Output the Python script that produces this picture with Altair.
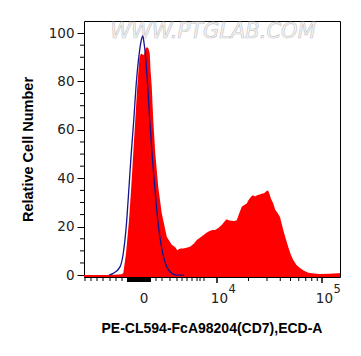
import altair as alt
import pandas as pd
import numpy as np

# Histogram; x is the display channel (0..1024 across the plot)
red_ch = [0, 110, 150, 157, 168, 180, 189, 197, 205, 213, 222, 228, 234, 240, 246, 252, 258, 263, 266, 271,
          277, 285, 291, 297, 311, 331, 351, 365, 373, 385, 397, 410, 424, 440, 451, 465, 477, 490, 504, 515,
          524, 537, 551, 561, 571, 581, 591, 601, 611, 621, 631, 641, 651, 657, 664, 670, 676, 684, 692, 700,
          710, 720, 728, 736, 742, 748, 757, 765, 775, 784, 797, 807, 817, 827, 837, 850, 864, 880, 897, 920,
          944, 980, 1016, 1024]
red_val = [0, 0, 0.3, 0.7, 8.9, 22.7, 36.4, 50.3, 64, 77.8, 90, 91.6, 91.2, 91.0, 93.5, 94.3, 93.5, 91.6, 85, 77.8,
           64, 50.3, 43.4, 36.4, 25.5, 15.8, 12.5, 11.5, 10.3, 11, 11, 11.3, 11.7, 13, 14.5, 15.5, 16.5, 17.5, 18.3, 18.6,
           18.6, 19.5, 20.7, 22, 23.1, 22.5, 22.4, 22.3, 22.7, 25.5, 28.2, 29, 29.6, 30.8, 31.8, 32.6, 33, 32.5, 33, 33.2,
           33.6, 33.8, 34.5, 35.1, 33.5, 31.5, 29.6, 27, 25.5, 24, 18.6, 15, 11.6, 8.5, 6.2, 4.2, 2.9, 1.8, 1, 0.6,
           0.4, 0.5, 0.8, 0.8]

blue_ch = [100, 117, 144, 157, 171, 180, 189, 199, 208, 221, 228, 235, 240, 245, 255, 263, 272, 283, 295, 315,
           331, 351, 371, 400]
blue_val = [0, 0.7, 3.4, 8.9, 22.7, 36.4, 50.3, 64, 77.8, 91.6, 96.5, 98.8, 96, 91.6, 77.8, 64, 50.3, 36.4, 22.7, 8.9,
            3.4, 0.7, 0, 0]

y_major = [0, 20, 40, 60, 80, 100]
y_minor = [5, 10, 15, 25, 30, 35, 45, 50, 55, 65, 70, 75, 85, 90, 95]

x_minor = ([4, 28, 52, 76, 104, 128, 152] +
           [288, 312, 344, 372, 392, 412, 432, 452, 464, 480] +
           [round(532 + 420 * np.log10(m)) for m in range(2, 10)])
x_block = list(range(176, 268, 4))
x_major = [532, 952]
zero_pos = [240]
zero_text = ["0"]
dec_pos = [532, 952]
dec_base = ["10", "10"]
dec_sup = ["4", "5"]

x_title = "PE-CL594-FcA98204(CD7),ECD-A"
y_title = "Relative Cell Number"
watermark = "WWW.PTGLAB.COM"

W, H = 256, 256
xs = alt.Scale(domain=[0, 1024], nice=False, zero=False)
ys = alt.Scale(domain=[-0.8, 105], nice=False, zero=False)
y_axis = alt.Axis(
    values=y_major, tickSize=7, tickColor="black", tickWidth=1,
    labelFont="DejaVu Sans", labelFontSize=13.5, labelColor="#222", labelPadding=3,
    domain=False, grid=False,
    title=y_title, titleFont="Liberation Sans", titleFontSize=14.5, titleFontWeight="bold",
    titleColor="black", titleX=-52, titleY=H / 2, titleAngle=270,
    titleAlign="center", titleBaseline="alphabetic")

red_df = pd.DataFrame({"ch": red_ch, "v": red_val})
blue_df = pd.DataFrame({"ch": blue_ch, "v": blue_val})

wm = alt.Chart(pd.DataFrame({"t": [watermark]})).mark_text(
    font="DejaVu Sans", fontSize=21, fill="#f8f8f8", stroke="#c8c8c8", strokeWidth=0.7,
    align="center", baseline="alphabetic", fontStyle="italic"
).encode(x=alt.value(W / 2 + 1), y=alt.value(17), text="t:N")

red = alt.Chart(red_df).mark_area(color="#ff0000", interpolate="linear").encode(
    x=alt.X("ch:Q", scale=xs, axis=None),
    y=alt.Y("v:Q", scale=ys, axis=y_axis),
    y2=alt.datum(-0.8),
)

blue = alt.Chart(blue_df).mark_line(color="#14148f", strokeWidth=1.3, interpolate="monotone").encode(
    x=alt.X("ch:Q", scale=xs, axis=None),
    y=alt.Y("v:Q", scale=ys, axis=y_axis),
)

ymin = alt.Chart(pd.DataFrame({"v": y_minor})).mark_rule(color="black", strokeWidth=1).encode(
    y=alt.Y("v:Q", scale=ys, axis=y_axis), x=alt.value(-4), x2=alt.value(0))

xmin = alt.Chart(pd.DataFrame({"ch": x_minor})).mark_rule(color="black", strokeWidth=1).encode(
    x=alt.X("ch:Q", scale=xs, axis=None), y=alt.value(H), y2=alt.value(H + 4))

xblk = alt.Chart(pd.DataFrame({"ch": x_block})).mark_rule(color="black", strokeWidth=2).encode(
    x=alt.X("ch:Q", scale=xs, axis=None), y=alt.value(H), y2=alt.value(H + 5))

xmaj = alt.Chart(pd.DataFrame({"ch": x_major})).mark_rule(color="black", strokeWidth=1.5).encode(
    x=alt.X("ch:Q", scale=xs, axis=None), y=alt.value(H), y2=alt.value(H + 6))

zl = alt.Chart(pd.DataFrame({"ch": zero_pos, "t": zero_text})).mark_text(
    font="DejaVu Sans", fontSize=13.5, color="#222", align="center", baseline="alphabetic"
).encode(x=alt.X("ch:Q", scale=xs, axis=None), y=alt.value(H + 26), text="t:N")

dl = alt.Chart(pd.DataFrame({"ch": dec_pos, "t": dec_base})).mark_text(
    font="DejaVu Sans", fontSize=13.5, color="#222", align="right", baseline="alphabetic", dx=11
).encode(x=alt.X("ch:Q", scale=xs, axis=None), y=alt.value(H + 26), text="t:N")

sl = alt.Chart(pd.DataFrame({"ch": dec_pos, "t": dec_sup})).mark_text(
    font="DejaVu Sans", fontSize=11.5, color="#222", align="left", baseline="alphabetic", dx=11.5
).encode(x=alt.X("ch:Q", scale=xs, axis=None), y=alt.value(H + 16), text="t:N")

xt = alt.Chart(pd.DataFrame({"t": [x_title]})).mark_text(
    font="Liberation Sans", fontSize=14, fontWeight="bold", color="black",
    align="center", baseline="alphabetic"
).encode(x=alt.value(W / 2), y=alt.value(H + 56), text="t:N")

chart = alt.layer(wm, red, blue, ymin, xmin, xblk, xmaj, zl, dl, sl, xt).properties(
    width=W, height=H,
    padding={"left": 84, "top": 21, "right": 21, "bottom": 79},
    autosize=alt.AutoSizeParams(type="none"),
    background="white",
).configure_view(stroke="black", strokeWidth=1)

chart.save("out.html", embed_options={"renderer": "svg", "actions": False})
